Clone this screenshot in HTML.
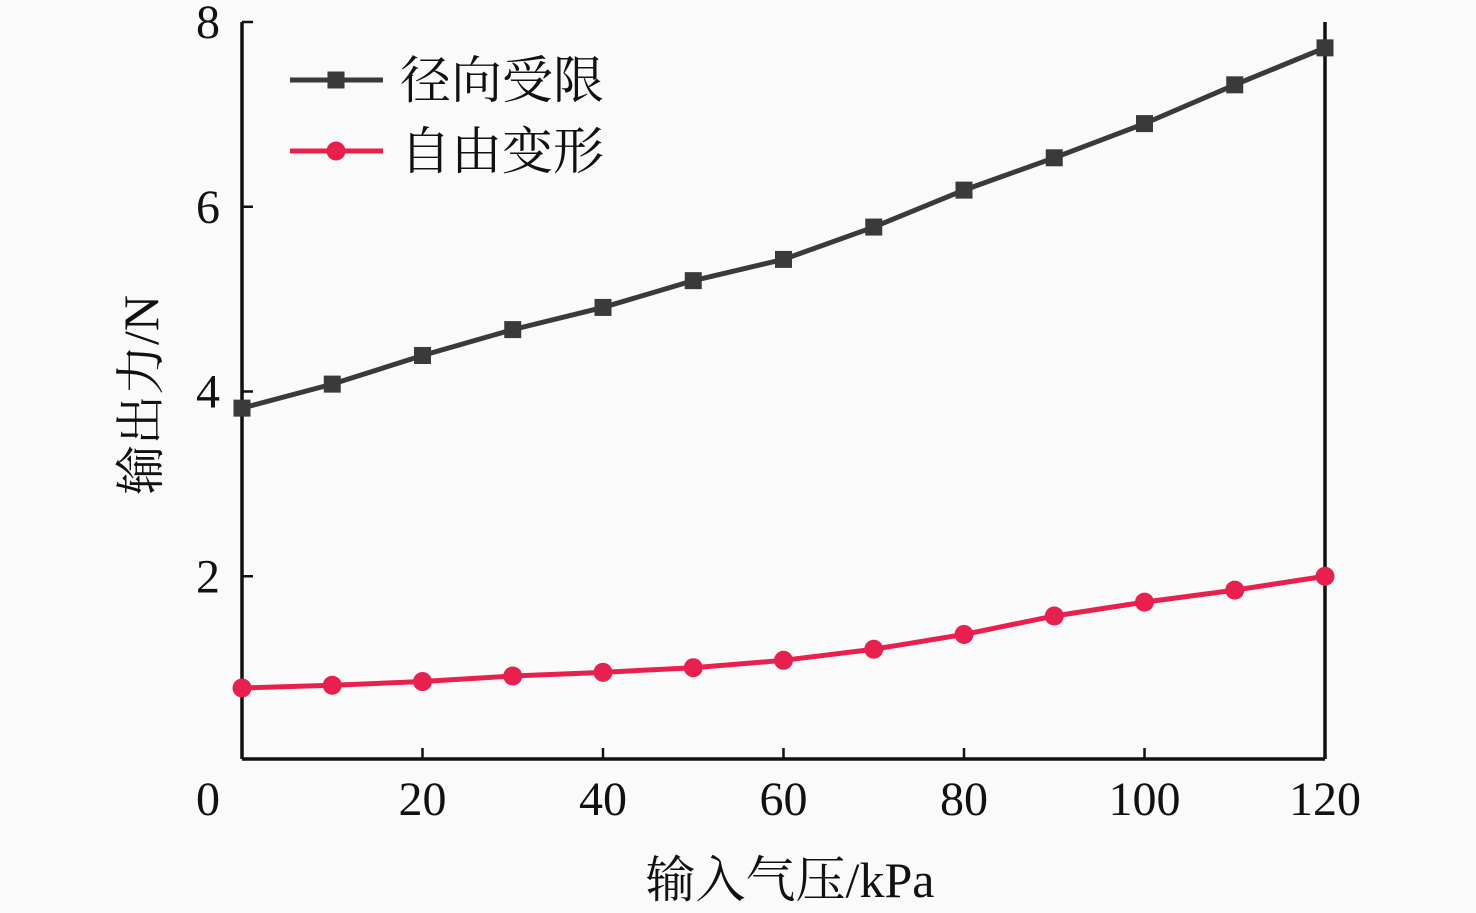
<!DOCTYPE html>
<html><head><meta charset="utf-8"><style>
html,body{margin:0;padding:0;background:#fafafa;}
svg{display:block;font-family:"Liberation Serif","Noto Serif CJK SC",serif;}
</style></head><body>
<svg id="chart" width="1476" height="913" viewBox="0 0 1476 913">
<rect width="1476" height="913" fill="#fafafa"/>
<g id="plot"></g>
</svg>
<script>
const xValues=[0,10,20,30,40,50,60,70,80,90,100,110,120];
const radialLimited=[3.82,4.08,4.39,4.67,4.91,5.2,5.43,5.78,6.18,6.53,6.9,7.32,7.72];
const freeDeform=[0.79,0.82,0.86,0.92,0.96,1.01,1.09,1.21,1.37,1.57,1.72,1.85,2.0];
const xTicks=[0,20,40,60,80,100,120];
const yTicks=[2,4,6,8];
const X0=242,X1=1325,Y0=761,Y8=22,YB=759;
const sx=v=>X0+(v/120)*(X1-X0);
const sy=v=>Y0+(v/8)*(Y8-Y0);
const NS="http://www.w3.org/2000/svg";
const g=document.getElementById('plot');
function mk(t,a){const e=document.createElementNS(NS,t);for(const k in a)e.setAttribute(k,a[k]);g.appendChild(e);return e;}
let e;
e=mk('line',{x1:X0,y1:Y8,x2:X0,y2:YB,stroke:'#111','stroke-width':3.5});


e=mk('line',{x1:X0,y1:YB,x2:X1,y2:YB,stroke:'#111','stroke-width':3.5});


e=mk('line',{x1:X1,y1:Y8,x2:X1,y2:YB,stroke:'#111','stroke-width':3.5});


xTicks.forEach(v=>{
 const t=mk('line',{x1:sx(v),y1:YB,x2:sx(v),y2:YB-11,stroke:'#111','stroke-width':2.5});
 
 
 const l=mk('text',{x:v===0?208:sx(v),y:815,'font-size':48,'text-anchor':'middle',fill:'#111'});
 l.textContent=v;
 
 
});
yTicks.forEach(v=>{
 const t=mk('line',{x1:X0,y1:sy(v),x2:X0+11,y2:sy(v),stroke:'#111','stroke-width':2.5});
 
 
 const l=mk('text',{x:208,y:sy(v)+16,'font-size':48,'text-anchor':'middle',fill:'#111'});
 l.textContent=v;
 
 
});
function series(vals,color,shape,name){
 const p=mk('polyline',{points:vals.map((v,i)=>sx(xValues[i])+','+sy(v)).join(' '),fill:'none',stroke:color,'stroke-width':5});
 
 
 vals.forEach((v,i)=>{
  let m;
  if(shape==='sq') m=mk('rect',{x:sx(xValues[i])-8.5,y:sy(v)-8.5,width:17,height:17,fill:color});
  else m=mk('circle',{cx:sx(xValues[i]),cy:sy(v),r:9.5,fill:color});
  
  
 });
}
series(radialLimited,'#3a3a3a','sq','radial-limited');
series(freeDeform,'#e8204e','ci','free-deform');
// legend
e=mk('line',{x1:290,y1:80,x2:383,y2:80,stroke:'#3a3a3a','stroke-width':5});


e=mk('rect',{x:327.5,y:71.5,width:17,height:17,fill:'#3a3a3a'});


e=mk('text',{x:400,y:98,'font-size':51,fill:'#111'});e.textContent='径向受限';


e=mk('line',{x1:290,y1:151,x2:383,y2:151,stroke:'#e8204e','stroke-width':5});


e=mk('circle',{cx:336,cy:151,r:9.5,fill:'#e8204e'});


e=mk('text',{x:400,y:169,'font-size':51,fill:'#111'});e.textContent='自由变形';


// axis titles
e=mk('text',{x:790,y:897,'font-size':50,'text-anchor':'middle',fill:'#111'});e.textContent='输入气压/kPa';


e=mk('text',{x:0,y:0,'font-size':50,'text-anchor':'middle',fill:'#111',transform:'translate(158,395) rotate(-90)'});e.textContent='输出力/N';


</script>
</body></html>
